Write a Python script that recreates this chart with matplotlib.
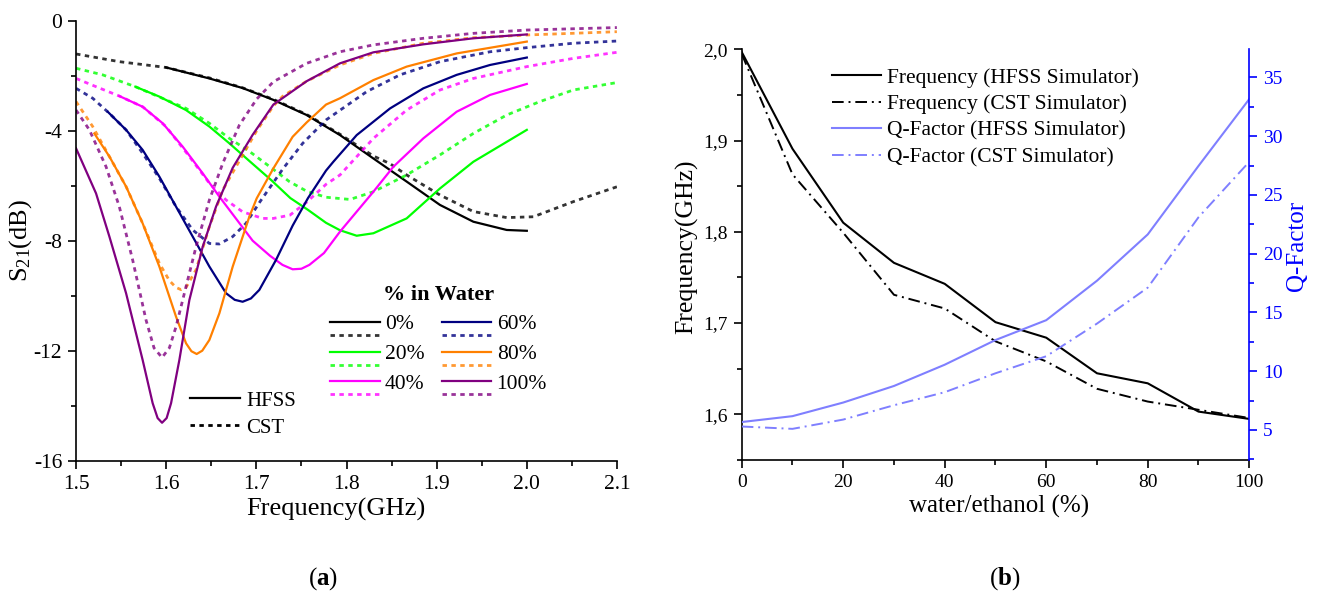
import matplotlib
matplotlib.use("Agg")
import matplotlib.pyplot as plt
from matplotlib.lines import Line2D
from matplotlib.legend_handler import HandlerBase
from matplotlib.ticker import MultipleLocator

plt.rcParams['font.family'] = ['Liberation Serif', 'DejaVu Serif']
plt.rcParams['mathtext.fontset'] = 'custom'
plt.rcParams['mathtext.rm'] = 'Liberation Serif'
plt.rcParams['mathtext.it'] = 'Liberation Serif:italic'
plt.rcParams['mathtext.bf'] = 'Liberation Serif:bold'
plt.rcParams['axes.unicode_minus'] = False

# ---------------- Panel (a) data: S21 (dB) vs frequency (GHz) ----------------
f_hfss_0 = [1.5998, 1.6479, 1.6848, 1.7189, 1.7558, 1.7928, 1.8298, 1.8667, 1.9037, 1.9407, 1.9777, 2.0000]
s_hfss_0 = [-1.70, -2.10, -2.45, -2.88, -3.43, -4.16, -5.01, -5.85, -6.70, -7.31, -7.61, -7.64]
f_cst_0 = [1.5000, 1.5480, 1.5998, 1.6479, 1.6848, 1.7189, 1.7558, 1.7928, 1.8298, 1.8483, 1.8667, 1.9037, 1.9407, 1.9777, 2.0072, 2.0516, 2.0999]
s_cst_0 = [-1.21, -1.49, -1.70, -2.08, -2.44, -2.86, -3.41, -4.13, -4.92, -5.20, -5.61, -6.34, -6.94, -7.16, -7.13, -6.58, -6.04]

f_hfss_20 = [1.5658, 1.5924, 1.6220, 1.6479, 1.6701, 1.6922, 1.7166, 1.7377, 1.7573, 1.7773, 1.7928, 1.8113, 1.8298, 1.8667, 1.9037, 1.9407, 2.0000]
s_hfss_20 = [-2.40, -2.76, -3.25, -3.85, -4.46, -5.10, -5.80, -6.45, -6.88, -7.35, -7.62, -7.82, -7.73, -7.19, -6.10, -5.13, -3.97]
f_cst_20 = [1.5000, 1.5296, 1.5658, 1.6220, 1.6479, 1.6701, 1.6922, 1.7166, 1.7366, 1.7558, 1.7773, 1.8039, 1.8298, 1.8667, 1.9037, 1.9407, 1.9777, 2.0146, 2.0516, 2.0999]
s_cst_20 = [-1.73, -1.97, -2.40, -3.19, -3.73, -4.28, -4.75, -5.35, -5.85, -6.20, -6.42, -6.50, -6.22, -5.61, -4.88, -4.10, -3.43, -2.94, -2.52, -2.25]

f_hfss_40 = [1.5480, 1.5739, 1.5961, 1.6183, 1.6405, 1.6590, 1.6775, 1.6959, 1.7152, 1.7290, 1.7403, 1.7500, 1.7588, 1.7750, 1.7928, 1.8298, 1.8520, 1.8852, 1.9222, 1.9592, 2.0000]
s_hfss_40 = [-2.74, -3.13, -3.73, -4.58, -5.55, -6.40, -7.20, -8.00, -8.55, -8.88, -9.04, -9.02, -8.88, -8.45, -7.67, -6.22, -5.31, -4.28, -3.31, -2.70, -2.30]
f_cst_40 = [1.5000, 1.5222, 1.5480, 1.5739, 1.5998, 1.6257, 1.6479, 1.6664, 1.6848, 1.7070, 1.7189, 1.7373, 1.7558, 1.7773, 1.7928, 1.8298, 1.8667, 1.9037, 1.9407, 2.0000, 2.0516, 2.0999]
s_cst_40 = [-2.10, -2.40, -2.74, -3.13, -3.85, -4.94, -5.91, -6.52, -6.95, -7.19, -7.19, -7.07, -6.60, -5.95, -5.61, -4.28, -3.25, -2.52, -2.10, -1.67, -1.37, -1.15]

f_hfss_60 = [1.5351, 1.5555, 1.5739, 1.5924, 1.6109, 1.6294, 1.6479, 1.6664, 1.6760, 1.6848, 1.6940, 1.7033, 1.7218, 1.7403, 1.7573, 1.7773, 1.7854, 1.8113, 1.8483, 1.8852, 1.9222, 1.9592, 2.0000]
s_hfss_60 = [-3.31, -3.97, -4.70, -5.67, -6.76, -7.85, -8.94, -9.91, -10.15, -10.22, -10.10, -9.79, -8.70, -7.45, -6.45, -5.45, -5.13, -4.16, -3.19, -2.46, -1.97, -1.61, -1.34]
f_cst_60 = [1.5000, 1.5185, 1.5370, 1.5555, 1.5739, 1.5924, 1.6109, 1.6294, 1.6479, 1.6590, 1.6738, 1.6885, 1.7041, 1.7292, 1.7514, 1.7773, 1.8224, 1.8593, 1.9037, 1.9592, 2.0000, 2.0516, 2.0999]
s_cst_60 = [-2.46, -2.82, -3.37, -3.97, -4.82, -5.73, -6.76, -7.61, -8.10, -8.12, -7.85, -7.37, -6.58, -5.40, -4.46, -3.61, -2.58, -1.97, -1.49, -1.13, -0.98, -0.82, -0.74]

f_hfss_80 = [1.5203, 1.5370, 1.5555, 1.5739, 1.5924, 1.6109, 1.6220, 1.6280, 1.6338, 1.6400, 1.6479, 1.6590, 1.6738, 1.6922, 1.7004, 1.7189, 1.7403, 1.7558, 1.7773, 1.7928, 1.8298, 1.8667, 1.9222, 2.0000]
s_hfss_80 = [-4.10, -4.94, -6.03, -7.37, -8.94, -10.76, -11.73, -12.02, -12.12, -12.00, -11.61, -10.64, -8.94, -7.13, -6.46, -5.37, -4.22, -3.70, -3.05, -2.82, -2.16, -1.67, -1.19, -0.76]
f_cst_80 = [1.5000, 1.5185, 1.5370, 1.5555, 1.5739, 1.5924, 1.6035, 1.6109, 1.6165, 1.6220, 1.6331, 1.6479, 1.6627, 1.6811, 1.7004, 1.7189, 1.7292, 1.7558, 1.7928, 1.8298, 1.8852, 1.9407, 2.0000, 2.0999]
s_cst_80 = [-2.94, -3.85, -4.94, -6.03, -7.37, -8.82, -9.45, -9.70, -9.78, -9.70, -9.06, -7.49, -6.16, -5.10, -4.00, -3.10, -2.75, -2.20, -1.61, -1.19, -0.82, -0.62, -0.52, -0.40]

f_hfss_100 = [1.5000, 1.5222, 1.5370, 1.5555, 1.5739, 1.5850, 1.5905, 1.5954, 1.6005, 1.6054, 1.6146, 1.6257, 1.6405, 1.6553, 1.6738, 1.6959, 1.7189, 1.7558, 1.7928, 1.8298, 1.8852, 1.9407, 2.0000]
s_hfss_100 = [-4.64, -6.28, -7.85, -9.91, -12.34, -13.91, -14.45, -14.62, -14.45, -13.91, -12.34, -10.16, -8.22, -6.76, -5.35, -4.15, -3.05, -2.20, -1.55, -1.15, -0.86, -0.64, -0.50]
f_cst_100 = [1.5000, 1.5148, 1.5333, 1.5480, 1.5628, 1.5776, 1.5865, 1.5954, 1.6035, 1.6109, 1.6220, 1.6331, 1.6479, 1.6627, 1.6811, 1.7004, 1.7189, 1.7558, 1.7928, 1.8298, 1.8852, 1.9407, 2.0000, 2.0999]
s_cst_100 = [-3.25, -3.97, -5.31, -6.76, -8.70, -10.88, -11.90, -12.25, -11.90, -11.13, -9.67, -8.22, -6.52, -5.19, -3.80, -2.85, -2.22, -1.55, -1.13, -0.88, -0.64, -0.46, -0.34, -0.25]

water_labels = ['0%', '20%', '40%', '60%', '80%', '100%']
water_colors = ['#000000', '#00FF00', '#FF00FF', '#000080', '#FF8000', '#800080']
hfss_f = [f_hfss_0, f_hfss_20, f_hfss_40, f_hfss_60, f_hfss_80, f_hfss_100]
hfss_s = [s_hfss_0, s_hfss_20, s_hfss_40, s_hfss_60, s_hfss_80, s_hfss_100]
cst_f = [f_cst_0, f_cst_20, f_cst_40, f_cst_60, f_cst_80, f_cst_100]
cst_s = [s_cst_0, s_cst_20, s_cst_40, s_cst_60, s_cst_80, s_cst_100]

xticks_a = [1.5, 1.6, 1.7, 1.8, 1.9, 2.0, 2.1]
yticks_a = [-16, -12, -8, -4, 0]

# ---------------- Panel (b) data ----------------
ratio = [0, 10, 20, 30, 40, 50, 60, 70, 80, 90, 100]
freq_hfss = [1.997, 1.891, 1.810, 1.766, 1.743, 1.701, 1.684, 1.645, 1.634, 1.603, 1.595]
freq_cst = [1.995, 1.863, 1.799, 1.731, 1.716, 1.680, 1.658, 1.628, 1.614, 1.605, 1.596]
q_hfss = [5.67, 6.17, 7.33, 8.74, 10.55, 12.65, 14.34, 17.70, 21.64, 27.47, 33.16]
q_cst = [5.29, 5.09, 5.88, 7.10, 8.21, 9.82, 11.27, 14.05, 17.11, 23.10, 27.82]
freq_ticks = [1.6, 1.7, 1.8, 1.9, 2.0]
freq_ticklabels = ['1,6', '1,7', '1,8', '1,9', '2,0']
q_ticks = [5, 10, 15, 20, 25, 30, 35]
ratio_ticks = [0, 20, 40, 60, 80, 100]

# ---------------- Figure ----------------
fig = plt.figure(figsize=(13.2, 5.98), dpi=100)

CST_LS = (0, (1.6, 1.6))
LW_S = 1.6
LW_D = 2.0


class HandlerPair(HandlerBase):
    def create_artists(self, legend, orig_handle, xdescent, ydescent,
                       width, height, fontsize, trans):
        solid, dashed = orig_handle
        y0 = height / 2.0 - ydescent
        l1 = Line2D([-xdescent, width - xdescent], [y0, y0],
                    color=solid.get_color(), lw=solid.get_linewidth(), ls='-')
        l2 = Line2D([-xdescent, width - xdescent + 2], [y0 - 0.6 * fontsize] * 2,
                    color=dashed.get_color(), lw=dashed.get_linewidth(),
                    ls=CST_LS, alpha=dashed.get_alpha())
        l1.set_transform(trans)
        l2.set_transform(trans)
        return [l1, l2]


ax1 = fig.add_axes([0.0576, 0.2296, 0.4098, 0.7358])
pairs = []
for lab, col, fh, sh, fc, sc in zip(water_labels, water_colors, hfss_f, hfss_s, cst_f, cst_s):
    ld, = ax1.plot(fc, sc, color=col, lw=LW_D, ls=CST_LS, alpha=0.8)
    ls_, = ax1.plot(fh, sh, color=col, lw=LW_S, ls='-')
    pairs.append((ls_, ld))

ax1.set_xlim(1.5, 2.1)
ax1.set_ylim(-16, 0)
ax1.set_xticks(xticks_a)
ax1.set_xticklabels([f'{v:.1f}' for v in xticks_a])
ax1.set_yticks(yticks_a)
ax1.set_yticklabels([str(v) for v in yticks_a])
ax1.xaxis.set_minor_locator(MultipleLocator(0.05))
ax1.yaxis.set_minor_locator(MultipleLocator(2))
ax1.spines['top'].set_visible(False)
ax1.spines['right'].set_visible(False)
for sp in ax1.spines.values():
    sp.set_linewidth(1.2)
ax1.tick_params(which='major', direction='out', length=6, width=1.2, labelsize=15.5, pad=4)
ax1.tick_params(which='minor', direction='out', length=3.5, width=1.2)
ax1.set_xlabel('Frequency(GHz)', fontsize=19)
ax1.set_ylabel('S$_{21}$(dB)', fontsize=19)
ax1.xaxis.set_label_coords(0.48, -0.085)
ax1.yaxis.set_label_coords(-0.078, 0.5)

leg1 = ax1.legend(pairs, water_labels, handler_map={tuple: HandlerPair()},
                  ncol=2, loc='upper left', bbox_to_anchor=(0.4695, 0.40),
                  frameon=False, fontsize=15.5, title='% in Water',
                  title_fontproperties={'weight': 'bold', 'size': 16},
                  handlelength=2.3, handletextpad=0.25, labelspacing=0.45,
                  columnspacing=0.8, borderpad=0, borderaxespad=0)
ax1.add_artist(leg1)

proxy_h = Line2D([], [], color='black', lw=LW_S, ls='-')
proxy_c = Line2D([], [], color='black', lw=LW_D, ls=CST_LS)
ax1.legend([proxy_h, proxy_c], ['HFSS', 'CST'], loc='upper left',
           bbox_to_anchor=(0.2107, 0.158), frameon=False, fontsize=15,
           handlelength=2.4, handletextpad=0.3, labelspacing=0.35,
           borderpad=0, borderaxespad=0)

fig.text(0.245, 0.033, r'($\mathbf{a}$)', fontsize=18, ha='center', va='center')

# ---------------- Panel (b) ----------------
ax2 = fig.add_axes([0.5619, 0.2308, 0.3845, 0.6868])
ax3 = ax2.twinx()
QCOL = '#7F7FFF'
BLUE = '#0000FF'
DASHDOT = (0, (6, 2.5, 1, 2.5))

l_fh, = ax2.plot(ratio, freq_hfss, color='black', lw=1.5, ls='-',
                 label='Frequency (HFSS Simulator)')
l_fc, = ax2.plot(ratio, freq_cst, color='black', lw=1.4, ls=DASHDOT,
                 label='Frequency (CST Simulator)')
l_qh, = ax3.plot(ratio, q_hfss, color=QCOL, lw=1.5, ls='-',
                 label='Q-Factor (HFSS Simulator)')
l_qc, = ax3.plot(ratio, q_cst, color=QCOL, lw=1.4, ls=DASHDOT,
                 label='Q-Factor (CST Simulator)')

ax2.set_xlim(0, 100)
ax2.set_ylim(1.55, 2.0)
ax3.set_ylim(2.44, 37.4)
ax2.set_xticks(ratio_ticks)
ax2.set_xticklabels([str(v) for v in ratio_ticks])
ax2.xaxis.set_minor_locator(MultipleLocator(10))
ax2.set_yticks(freq_ticks)
ax2.set_yticklabels(freq_ticklabels)
ax2.yaxis.set_minor_locator(MultipleLocator(0.05))
ax3.set_yticks(q_ticks)
ax3.set_yticklabels([str(v) for v in q_ticks])
ax3.yaxis.set_minor_locator(MultipleLocator(2.5))

for a in (ax2, ax3):
    a.spines['top'].set_visible(False)
ax2.spines['right'].set_visible(False)
ax3.spines['left'].set_visible(False)
ax3.spines['bottom'].set_visible(False)
ax3.spines['right'].set_color(BLUE)
for sp in list(ax2.spines.values()) + list(ax3.spines.values()):
    sp.set_linewidth(1.2)

ax2.tick_params(which='major', direction='out', length=6, width=1.2, labelsize=14, pad=4)
ax2.tick_params(which='minor', direction='out', length=3.5, width=1.2)
ax3.tick_params(which='major', direction='out', length=6, width=1.2, labelsize=14,
                colors=BLUE, pad=4)
ax3.tick_params(which='minor', direction='out', length=3.5, width=1.2, colors=BLUE)

ax2.set_xlabel('water/ethanol (%)', fontsize=18)
ax2.set_ylabel('Frequency(GHz)', fontsize=18.5)
ax3.set_ylabel('Q-Factor', fontsize=18, color=BLUE)
ax2.xaxis.set_label_coords(0.507, -0.085)
ax2.yaxis.set_label_coords(-0.086, 0.52)
ax3.yaxis.set_label_coords(1.072, 0.52)

ax3.legend([l_fh, l_fc, l_qh, l_qc],
           [l.get_label() for l in (l_fh, l_fc, l_qh, l_qc)],
           loc='upper left', bbox_to_anchor=(0.178, 0.955), frameon=False,
           fontsize=15.5, handlelength=2.26, handletextpad=0.3, labelspacing=0.3,
           borderpad=0, borderaxespad=0)

fig.text(0.7613, 0.033, r'($\mathbf{b}$)', fontsize=18, ha='center', va='center')

fig.savefig('out.png', dpi=100)
